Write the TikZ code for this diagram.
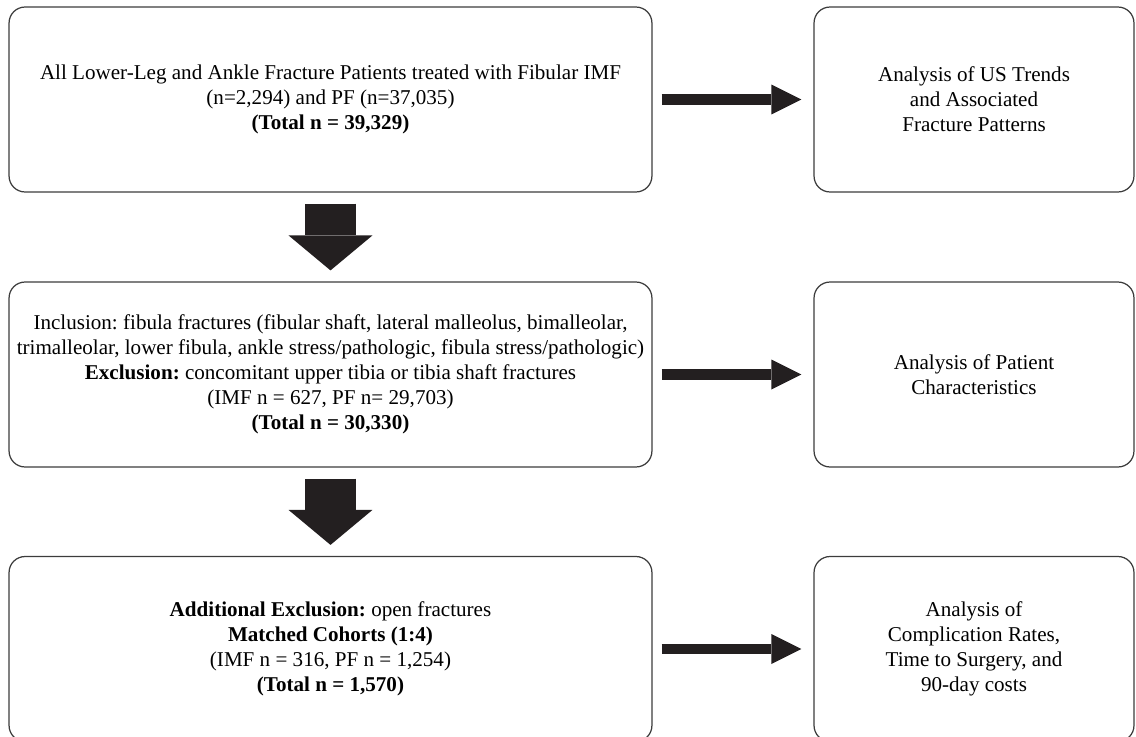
\documentclass[tikz,border=0pt]{standalone}
\usepackage{fontspec}
\setmainfont{Liberation Serif}
\usepackage{tikz}
\usetikzlibrary{arrows.meta,positioning}
\frenchspacing

\definecolor{arrowfill}{RGB}{35,31,32}
\definecolor{boxline}{RGB}{60,60,60}

\begin{document}
\begin{tikzpicture}[
  x=0.02cm, y=-0.02cm,
  every node/.style={font=\fontsize{12}{14.2}\selectfont},
  box/.style={draw=boxline, line width=0.7pt, rounded corners=0.32cm,
              align=center, minimum width=12.86cm, minimum height=3.70cm},
  sidebox/.style={box, minimum width=6.40cm},
  downarrow/.style={draw=arrowfill, line width=1.04cm,
                    -{Triangle[length=0.70cm, width=1.68cm, line width=0pt]},
                    shorten <=0.22cm, shorten >=0.22cm},
  sidearrow/.style={draw=arrowfill, line width=0.21cm,
                    -{Triangle[length=0.60cm, width=0.60cm, line width=0pt]},
                    shorten <=0.18cm, shorten >=0.24cm},
]

\useasboundingbox (0,0) rectangle (1136,737);

%% ── Cohort boxes (left column) ─────────────────────────────────────────────
\node[box] (all) at (330.5, 99.5)
  {All Lower-Leg and Ankle Fracture Patients treated with Fibular IMF\\
   (n=2,294) and PF (n=37,035)\\
   \textbf{(Total n = 39,329)}};

\node[box] (incl) at (330.5, 374.5)
  {Inclusion: fibula fractures (fibular shaft, lateral malleolus, bimalleolar,\\
   trimalleolar, lower fibula, ankle stress/pathologic, fibula stress/pathologic)\\
   \textbf{Exclusion:} concomitant upper tibia or tibia shaft fractures\\
   (IMF n = 627, PF n= 29,703)\\
   \textbf{(Total n = 30,330)}};

\node[box] (match) at (330.5, 649)
  {\textbf{Additional Exclusion:} open fractures\\
   \textbf{Matched Cohorts (1:4)}\\
   (IMF n = 316, PF n = 1,254)\\
   \textbf{(Total n = 1,570)}};

%% ── Analysis boxes (right column) ──────────────────────────────────────────
\node[sidebox] (trends) at (974, 99.5)
  {Analysis of US Trends\\ and Associated\\ Fracture Patterns};

\node[sidebox] (chars) at (974, 374.5)
  {Analysis of Patient\\ Characteristics};

\node[sidebox] (compl) at (974, 649)
  {Analysis of\\ Complication Rates,\\ Time to Surgery, and\\ 90-day costs};

%% ── Arrows ─────────────────────────────────────────────────────────────────
\draw[downarrow] (all.south) -- (incl.north);
\draw[downarrow] (incl.south) -- (match.north);

\draw[sidearrow] (all.east) -- (trends.west);
\draw[sidearrow] (incl.east) -- (chars.west);
\draw[sidearrow] (match.east) -- (compl.west);

\end{tikzpicture}
\end{document}
